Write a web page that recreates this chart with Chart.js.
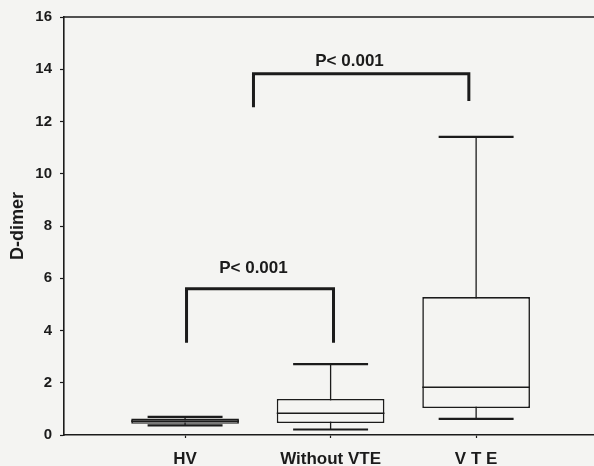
<!DOCTYPE html>
<html>
<head>
<meta charset="utf-8">
<script src="https://cdn.jsdelivr.net/npm/chart.js@4.4.1/dist/chart.umd.min.js"></script>
<style>
  html, body { margin: 0; padding: 0; background: #f4f4f2; }
  #wrap { width: 594px; height: 466px; }
</style>
</head>
<body>
<div id="wrap"><canvas id="boxChart" width="594" height="466"></canvas></div>
<script>
// groups and five-number summaries
const groups = ["HV", "Without VTE", "V T E"];
const groupPos = [1, 2, 3];
const lowWhisker = [0.37, 0.21, 0.62];
const lowerQuartile = [0.43, 0.46, 1.03];
const medians = [0.53, 0.83, 1.83];
const upperQuartile = [0.63, 1.38, 5.28];
const highWhisker = [0.69, 2.71, 11.41];
const yTicks = [0, 2, 4, 6, 8, 10, 12, 14, 16];

// significance brackets: [left x, right x], top, [left foot, right foot]
const bracketSpan = [[1.01, 2.02], [1.47, 2.95]];
const bracketTop = [5.6, 13.83];
const bracketFeet = [[3.53, 3.53], [12.55, 12.78]];
const bracketText = ["P< 0.001", "P< 0.001"];
const bracketTextPos = [[1.47, 6.22], [2.13, 14.13]];

const ink = "#1b1b1b";
const paper = "#f4f4f2";
const boldFont = "bold 17px 'Liberation Sans', Arial, sans-serif";
const capWidth = 0.515;

const boxParts = {
  id: "boxParts",
  beforeDatasetsDraw(chart) {
    const { ctx, scales: { x, y } } = chart;
    ctx.save();
    ctx.strokeStyle = ink;
    groupPos.forEach(function (g, i) {
      const cx = x.getPixelForValue(g);
      const half = x.getPixelForValue(g + capWidth / 2) - cx;
      ctx.lineWidth = 1.3;
      ctx.beginPath();
      ctx.moveTo(cx, y.getPixelForValue(lowWhisker[i]));
      ctx.lineTo(cx, y.getPixelForValue(highWhisker[i]));
      ctx.stroke();
      ctx.lineWidth = 2.2;
      [lowWhisker[i], highWhisker[i]].forEach(function (v) {
        const py = y.getPixelForValue(v);
        ctx.beginPath();
        ctx.moveTo(cx - half, py);
        ctx.lineTo(cx + half, py);
        ctx.stroke();
      });
    });
    ctx.restore();
  },
  afterDatasetsDraw(chart) {
    const { ctx, chartArea, scales: { x, y } } = chart;
    const meta = chart.getDatasetMeta(0);
    ctx.save();
    ctx.strokeStyle = ink;

    // median lines across each box
    ctx.lineWidth = 1.6;
    meta.data.forEach(function (bar, i) {
      const py = y.getPixelForValue(medians[i]);
      ctx.beginPath();
      ctx.moveTo(bar.x - bar.width / 2, py);
      ctx.lineTo(bar.x + bar.width / 2, py);
      ctx.stroke();
    });

    // frame line along the top
    ctx.lineWidth = 1.6;
    ctx.beginPath();
    ctx.moveTo(chartArea.left, chartArea.top);
    ctx.lineTo(chartArea.right, chartArea.top);
    ctx.stroke();

    // brackets and p-values
    ctx.lineWidth = 3;
    ctx.lineJoin = "miter";
    bracketSpan.forEach(function (span, i) {
      const x1 = x.getPixelForValue(span[0]);
      const x2 = x.getPixelForValue(span[1]);
      const top = y.getPixelForValue(bracketTop[i]);
      ctx.beginPath();
      ctx.moveTo(x1, y.getPixelForValue(bracketFeet[i][0]));
      ctx.lineTo(x1, top);
      ctx.lineTo(x2, top);
      ctx.lineTo(x2, y.getPixelForValue(bracketFeet[i][1]));
      ctx.stroke();
    });
    ctx.fillStyle = ink;
    ctx.font = boldFont;
    ctx.textAlign = "center";
    ctx.textBaseline = "alphabetic";
    bracketText.forEach(function (t, i) {
      ctx.fillText(t, x.getPixelForValue(bracketTextPos[i][0]), y.getPixelForValue(bracketTextPos[i][1]));
    });
    ctx.restore();
  }
};

const ctx = document.getElementById("boxChart").getContext("2d");
new Chart(ctx, {
  type: "bar",
  data: {
    datasets: [
      {
        label: "D-dimer",
        data: groupPos.map((g, i) => ({ x: g, y: [lowerQuartile[i], upperQuartile[i]] })),
        backgroundColor: paper,
        borderColor: ink,
        borderWidth: 1.6,
        borderSkipped: false,
        barPercentage: 0.74,
        categoryPercentage: 1,
      },
    ],
  },
  options: {
    responsive: false,
    animation: false,
    layout: { padding: { top: 15, right: 0, left: 0, bottom: 0 } },
    plugins: { legend: { display: false }, tooltip: { enabled: false } },
    scales: {
      x: {
        type: "linear",
        offset: false,
        min: 0.168,
        max: 3.81,
        afterBuildTicks: (s) => { s.ticks = groupPos.map((v) => ({ value: v })); },
        afterFit: (s) => { s.height = 31; },
        ticks: {
          callback: (v) => groups[groupPos.indexOf(v)],
          font: { family: "'Liberation Sans', Arial, sans-serif", size: 17, weight: "bold" },
          color: ink,
          padding: 11,
          maxRotation: 0,
          autoSkip: false,
        },
        grid: { offset: false, drawOnChartArea: false, tickLength: 3, tickColor: ink, tickWidth: 1.2 },
        border: { color: ink, width: 1.6 },
      },
      y: {
        min: 0,
        max: 16,
        afterBuildTicks: (s) => { s.ticks = yTicks.map((v) => ({ value: v })); },
        afterFit: (s) => { s.width = 64; },
        ticks: {
          font: { family: "'Liberation Sans', Arial, sans-serif", size: 15, weight: "bold" },
          color: ink,
          padding: 8,
        },
        grid: { drawOnChartArea: false, tickLength: 4, tickColor: ink, tickWidth: 1.2 },
        border: { color: ink, width: 1.6 },
        title: {
          display: true,
          text: "D-dimer",
          font: { family: "'Liberation Sans', Arial, sans-serif", size: 18, weight: "bold" },
          color: ink,
          padding: { top: 7, bottom: 0 },
        },
      },
    },
  },
  plugins: [boxParts],
});
</script>
</body>
</html>
